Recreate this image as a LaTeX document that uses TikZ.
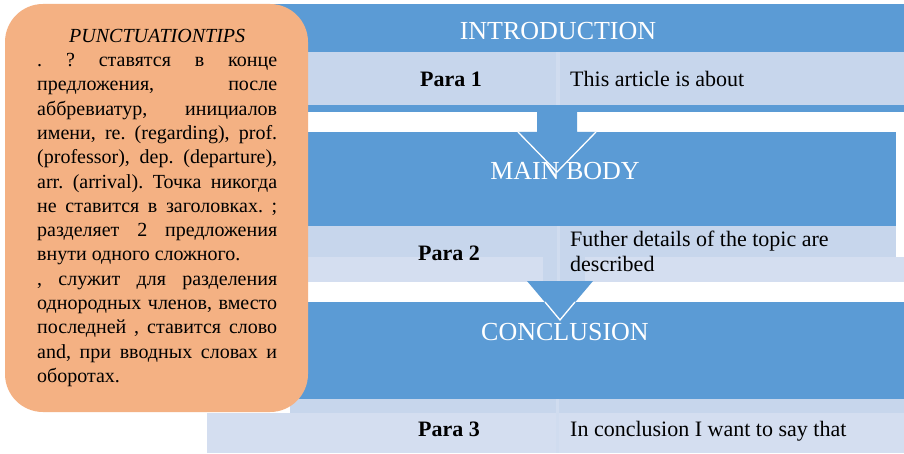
\documentclass[tikz,border=0pt]{standalone}
\usepackage{fontspec}
\setmainfont{Liberation Serif}
\definecolor{band}{HTML}{5B9BD5}
\definecolor{rowa}{HTML}{C7D6EC}
\definecolor{rowb}{HTML}{D4DEF0}
\definecolor{divline}{HTML}{D0DCEF}
\definecolor{tipfill}{HTML}{F4B183}
\tikzset{
  headtext/.style={anchor=base, inner sep=0pt, text=white, font=\fontsize{26}{30}\selectfont},
  paralabel/.style={anchor=base, inner sep=0pt, font=\fontsize{22}{26}\selectfont\bfseries},
  paratext/.style={anchor=base west, inner sep=0pt, font=\fontsize{22}{26}\selectfont},
  arrowfill/.style={fill=band},
  arrowedge/.style={draw=white, line width=1.3pt, line join=miter},
}
\begin{document}
\begin{tikzpicture}[x=1pt,y=-1pt]
\useasboundingbox (0,0) rectangle (904,454);
\fill[white] (0,0) rectangle (904,454);
% introduction block
\fill[band] (270,4) rectangle (904,52);
\fill[rowa] (270,52) rectangle (904,105);
\fill[divline] (556,52) rectangle (560,105);
\fill[band] (270,105) rectangle (904,112);
% main body block
\fill[band] (270,132) rectangle (896,226);
\fill[rowa] (270,226) rectangle (896,257);
\fill[rowb] (270,257) rectangle (904,282);
\fill[rowa] (543,257) rectangle (585,282);
\fill[divline] (557,226) rectangle (560,282);
% conclusion block
\fill[band] (270,302) rectangle (904,399);
\fill[rowa] (290,399) rectangle (904,413);
\fill[rowb] (207,413) rectangle (904,453);
\fill[divline] (556,399) rectangle (559,453);
% arrow 1
\fill[arrowfill] (537,107) -- (537,132) -- (518,132) -- (557,172) -- (596,132) -- (577,132) -- (577,107) -- cycle;
\draw[arrowedge] (518,132) -- (557,172) -- (596,132);
% arrow 2
\fill[arrowfill] (527,281) -- (560,320) -- (593,281) -- cycle;
\draw[arrowedge] (545,302) -- (560,320) -- (575,302);
% orange tips box
\fill[tipfill, rounded corners=38pt] (5,4) rectangle (308,412);
\node[anchor=north west, inner sep=0pt, text width=240pt, align=justify,
      font=\fontsize{20}{24.3}\selectfont] (tips) at (37,25)
{\parindent=0pt\frenchspacing\hyphenpenalty=10000\exhyphenpenalty=10000
\centerline{\strut\itshape PUNCTUATIONTIPS}
.\ ? ставятся в конце\linebreak
предложения, после\linebreak
аббревиатур, инициалов\linebreak
имени, re. (regarding), prof.\linebreak
(professor), dep. (departure),\linebreak
arr. (arrival). Точка никогда\linebreak
не ставится в заголовках. ;\linebreak
разделяет 2 предложения\linebreak
внути одного сложного.\par
, служит для разделения\linebreak
однородных членов, вместо\linebreak
последней , ставится слово\linebreak
and, при вводных словах и\linebreak
оборотах.\par};
% headings
\node[headtext] (intro) at (558,40) {INTRODUCTION};
\node[headtext] (main) at (565,180) {MAIN BODY};
\node[headtext] (concl) at (565,340) {CONCLUSION};
% rows
\node[paralabel] (p1) at (451,87) {Para 1};
\node[paratext] (t1) at (570,87) {This article is about};
\node[paralabel] (p2) at (449,260) {Para 2};
\node[paratext] (t2a) at (570,247) {Futher details of the topic are};
\node[paratext] (t2b) at (570,271) {described};
\node[paralabel] (p3) at (449,436) {Para 3};
\node[paratext] (t3) at (570,436) {In conclusion I want to say that};
\end{tikzpicture}
\end{document}
